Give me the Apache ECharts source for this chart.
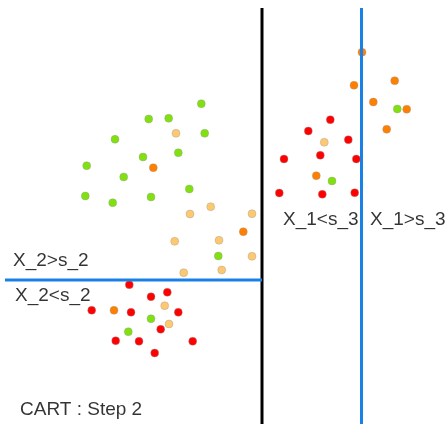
<!DOCTYPE html>
<html><head><meta charset="utf-8">
<script src="https://cdn.jsdelivr.net/npm/echarts@6/dist/echarts.min.js"></script>
<style>html,body{margin:0;padding:0;background:#fff}#c{width:448px;height:424px}</style>
</head><body><div id="c"></div>
<script>
// Point data [x, y] in the chart's coordinate space (y grows downward)
const redPts = [[129.3,284.7],[151,296.7],[167.3,292.3],[91.7,310.3],[131,312.3],[178.3,312.3],[160.7,329.3],[115.7,340.7],[139,341.3],[192.7,341.3],[154.7,353],
  [330.3,119.7],[308.3,131],[348.3,139.7],[284,159],[320.3,155.3],[356.3,159],[279.3,193],[322.3,194.3],[354.7,192.7]];
const greenPts = [[201.3,103.7],[148.7,119],[168.7,118.3],[204.7,133.3],[115,139.3],[143,157],[178.3,152.7],[86.7,165.7],[123.7,177],[189.3,189],[85.3,196],[112.7,202.7],[151,197],[218.3,256],
  [151,318.7],[128.3,331.7],[397.3,109],[332,181]];
const lightPts = [[176,133.3],[210.7,206.7],[190,214],[252,213.7],[174.7,241.3],[219,240.3],[252,256.3],[183.7,272.7],[221.7,270],
  [164.7,305.7],[169,324],[324.3,142.3]];
const orangePts = [[153.3,167.7],[243.3,231.7],[114,310.3],[316.3,175.7],
  [362,52.3],[354,85.3],[394.7,80.7],[373.3,102],[406.7,109.3],[386.7,129.3]];
// Split lines
const split1 = [[262,8],[262,424]];      // first split (black)
const split2 = [[5,280],[262,280]];      // X_2 split s_2 (blue)
const split3 = [[361.5,8],[361.5,424]];  // X_1 split s_3 (blue)
// Labels
const labels = [
  {text:'X_2>s_2', x:13, y:261},
  {text:'X_2<s_2', x:15, y:295.5},
  {text:'X_1<s_3', x:283, y:220},
  {text:'X_1>s_3', x:370, y:220},
  {text:'CART : Step 2', x:20, y:409.5}
];

const ch = echarts.init(document.getElementById('c'));
function pts(data, color){
  return {type:'scatter', data, symbolSize:8, z:2,
    itemStyle:{color, borderColor:'rgba(150,150,150,0.6)', borderWidth:0.6, opacity:1}};
}
function line(data, color){
  return {type:'line', data, symbol:'none', z:3, lineStyle:{color, width:3}, silent:true};
}
ch.setOption({
  animation:false,
  grid:{left:0,right:0,top:0,bottom:0},
  xAxis:{type:'value',min:0,max:448,show:false},
  yAxis:{type:'value',min:0,max:424,inverse:true,show:false},
  series:[
    pts(greenPts,'#80e010'),
    pts(lightPts,'#fdc870'),
    pts(orangePts,'#ff7f00'),
    pts(redPts,'#ff0000'),
    line(split1,'#000000'),
    line(split2,'#1a80e6'),
    line(split3,'#1a80e6'),
    {type:'scatter', data:labels.map(l=>[l.x,l.y]), symbolSize:0, z:4,
      label:{show:true, position:'right', distance:0, color:'#000',
        fontFamily:'Liberation Sans', fontSize:19,
        formatter:p=>labels[p.dataIndex].text}}
  ]
});
</script></body></html>
